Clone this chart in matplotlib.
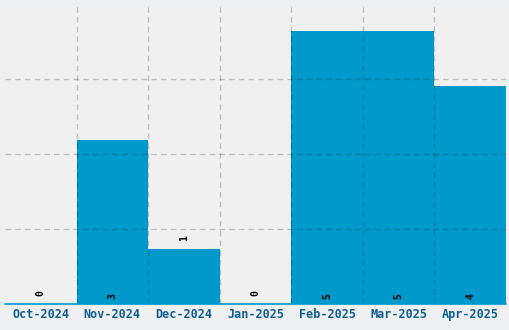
import numpy as np
import matplotlib.pyplot as plt

# Datos
meses = ['Oct-2024', 'Nov-2024', 'Dec-2024', 'Jan-2025', 'Feb-2025', 'Mar-2025', 'Apr-2025']
valores = [0, 3, 1, 0, 5, 5, 4]

azul = '#0099cc'
fondo = '#eef0f1'

fig = plt.figure(figsize=(5.1, 3.3), dpi=100, facecolor=fondo)
ax = fig.add_axes([5 / 510, 26 / 330, 501 / 510, 300 / 330])
ax.set_facecolor('#f0f0f0')

x = np.arange(len(meses))
ax.bar(x, valores, width=1.0, color=azul, zorder=2)

ymax = max(valores) * 1.1
ax.set_xlim(-0.5, len(meses) - 0.5)
ax.set_ylim(0, ymax)

# rejilla a trazos en los bordes de las barras
ax.set_xticks(x)
ax.set_xticks(x[:-1] + 0.5, minor=True)
ax.set_yticks(np.array([1, 2, 3]) * ymax / 4)
estilo = dict(color='black', alpha=0.2, linestyle=(0, (4, 3)), linewidth=1)
ax.grid(which='minor', axis='x', **estilo)
ax.grid(which='major', axis='y', **estilo)
ax.set_axisbelow(False)

ax.set_xticklabels(meses, fontfamily='DejaVu Sans Mono', fontweight='bold', fontsize=8.5, color='#0d5e92')
ax.tick_params(axis='x', which='both', length=0, pad=3)
ax.tick_params(axis='y', length=0, labelleft=False)

for s in ['top', 'left', 'right']:
    ax.spines[s].set_visible(False)
ax.spines['bottom'].set_color(azul)
ax.spines['bottom'].set_linewidth(1.2)
ax.spines['bottom'].set_zorder(4)

# etiquetas de valor rotadas
for xi, v in zip(x, valores):
    if v >= 2:
        y = 0.1
    else:
        y = v + 0.155
    ax.text(xi, y, str(v), rotation=90, ha='center', va='bottom', fontsize=7,
            fontfamily='DejaVu Sans Mono', fontweight='bold', color='black', zorder=5)

fig.savefig('out.png', dpi=100, facecolor=fondo)
